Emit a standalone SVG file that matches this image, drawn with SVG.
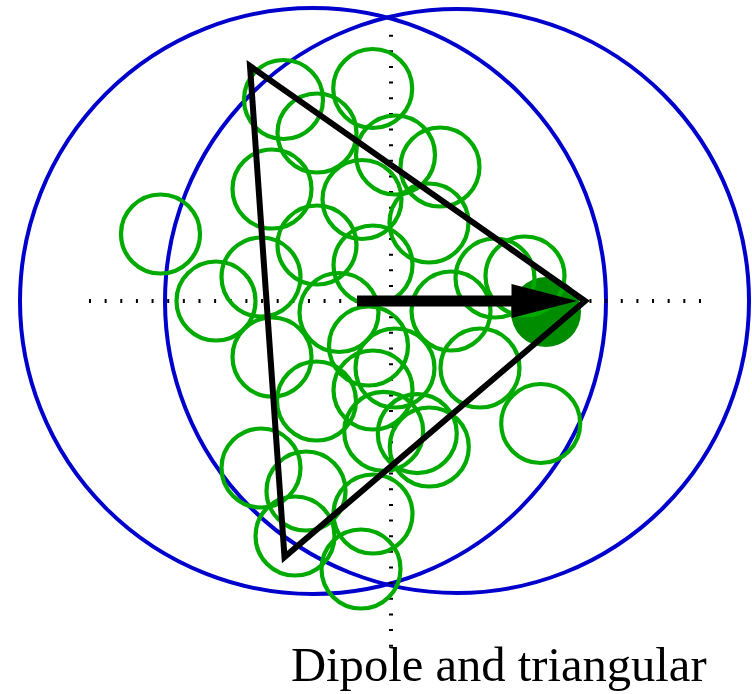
<svg xmlns="http://www.w3.org/2000/svg" width="752" height="694" viewBox="0 0 752 694">
<style>
.blue{fill:none;stroke:#0000cc;stroke-width:4}
.dot{fill:none;stroke:#000;stroke-width:4;stroke-dasharray:2 13.64}
.g{fill:none;stroke:#00aa00;stroke-width:4.2}
.lbl{font-family:"Liberation Serif","Times New Roman",serif;font-size:48.6px;fill:#000}
</style>
<rect width="752" height="694" fill="#fff"/>
<g id="ranges">
<circle class="blue" cx="313" cy="301" r="293"/>
<circle class="blue" cx="457" cy="301" r="292"/>
</g>
<g id="axes">
<line class="dot" x1="391" y1="34.7" x2="391" y2="647"/>
<line class="dot" x1="89" y1="301" x2="702" y2="301"/>
</g>
<g id="target">
<circle cx="546" cy="312" r="35" fill="#008c00"/>
</g>
<g id="particles">
<circle class="g" cx="160.5" cy="234" r="39.5"/>
<circle class="g" cx="283.5" cy="99.5" r="39.5"/>
<circle class="g" cx="372.7" cy="88.5" r="39.5"/>
<circle class="g" cx="317" cy="133" r="39.5"/>
<circle class="g" cx="395.5" cy="155" r="39.5"/>
<circle class="g" cx="440" cy="167" r="39.5"/>
<circle class="g" cx="272" cy="189" r="39.5"/>
<circle class="g" cx="362" cy="199.5" r="39.5"/>
<circle class="g" cx="429" cy="223" r="39.5"/>
<circle class="g" cx="317" cy="245" r="39.5"/>
<circle class="g" cx="373" cy="265" r="39.5"/>
<circle class="g" cx="261" cy="277" r="39.5"/>
<circle class="g" cx="216" cy="301" r="39.5"/>
<circle class="g" cx="339" cy="312.5" r="39.5"/>
<circle class="g" cx="495" cy="278" r="39.5"/>
<circle class="g" cx="525" cy="276" r="39.5"/>
<circle class="g" cx="451" cy="311" r="39.5"/>
<circle class="g" cx="272" cy="357" r="39.5"/>
<circle class="g" cx="368.5" cy="346" r="39.5"/>
<circle class="g" cx="395" cy="368" r="39.5"/>
<circle class="g" cx="480" cy="368" r="39.5"/>
<circle class="g" cx="316.5" cy="401" r="39.5"/>
<circle class="g" cx="373" cy="390" r="39.5"/>
<circle class="g" cx="383.7" cy="431.4" r="39.5"/>
<circle class="g" cx="417.3" cy="433.6" r="39.5"/>
<circle class="g" cx="429.3" cy="447" r="39.5"/>
<circle class="g" cx="540.7" cy="423.5" r="39.5"/>
<circle class="g" cx="261" cy="468" r="39.5"/>
<circle class="g" cx="306" cy="491" r="39.5"/>
<circle class="g" cx="373" cy="514" r="39.5"/>
<circle class="g" cx="295" cy="536" r="39.5"/>
<circle class="g" cx="361" cy="569" r="39.5"/>
</g>
<g id="triangle">
<polygon points="250,66 585,301 284.5,557" fill="none" stroke="#000" stroke-width="6" stroke-linejoin="miter" stroke-miterlimit="10"/>
</g>
<g id="connectors">
<rect x="357" y="295.5" width="156" height="11" fill="#000"/>
<polygon points="511.5,284 577,301 511.5,318" fill="#000"/>
</g>
<g id="caption">
<text class="lbl" x="291" y="681">Dipole and triangular</text>
</g>
</svg>
